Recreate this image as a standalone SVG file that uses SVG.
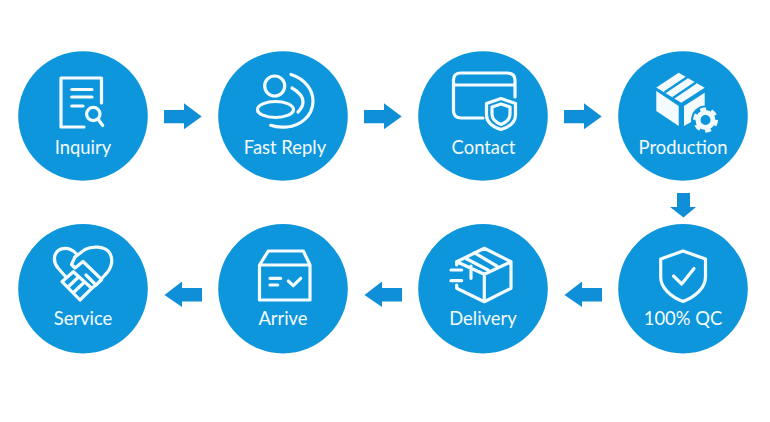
<svg xmlns="http://www.w3.org/2000/svg" width="770" height="422" viewBox="0 0 770 422">
<style>
.c{fill:#0e96dc}
.t{font-family:Lato,"Noto Sans",sans-serif;font-size:18.4px;fill:#f4fbff;text-anchor:middle}
.i{fill:none;stroke:#f4fbff;stroke-width:3.2;stroke-linecap:round;stroke-linejoin:round}
.a{fill:#0e8fd8}
</style>
<rect width="770" height="422" fill="#fff"/>
<g id="connectors">
<path id="a1" class="a" d="M164 110H184V103.3L201.7 116.5L184 129.3V123.3H164Z"/>
<path id="a2" class="a" d="M364 110H384V103.3L401.7 116.5L384 129.3V123.3H364Z"/>
<path id="a3" class="a" d="M564 110H584V103.3L601.7 116.5L584 129.3V123.3H564Z"/>
<path id="a4" class="a" d="M677 193H690V207H696L683.5 217.5L670 207H677Z"/>
<path id="a5" class="a" d="M602 288H582V281.5L564.5 295L582 307V301.5H602Z"/>
<path id="a6" class="a" d="M402 288H382V281.5L364.5 295L382 307V301.5H402Z"/>
<path id="a7" class="a" d="M202 288H182V281.5L164.5 295L182 307V301.5H202Z"/>
</g>
<g id="inquiry">
<circle class="c" cx="83" cy="116" r="64.8"/>
<path class="i" d="M101.5 103V78H61V127H84M71.7 89.5H92M71.7 97H92M71.7 106H83"/>
<circle class="i" cx="93.3" cy="114" r="6.7"/>
<path class="i" d="M98 119L102.7 125.500"/>
<text class="t" x="83" y="154">Inquiry</text>
</g>
<g id="fast-reply">
<circle class="c" cx="283" cy="116" r="64.8"/>
<circle class="i" cx="274.7" cy="86" r="10"/>
<ellipse class="i" cx="275.5" cy="109.5" rx="18" ry="8"/>
<path class="i" d="M291 74.500C305 79 313 90 313 101C313 117 299 126 287 127C281 127.500 275 127 270.700 125.300"/>
<path class="i" d="M292 88C299 92 303 97 303 102C303 106 301 109 298 112"/>
<text class="t" x="285" y="154">Fast Reply</text>
</g>
<g id="contact">
<circle class="c" cx="483" cy="116" r="64.8"/>
<path class="i" d="M483 118H461C456 118 453.500 115 453.500 111V80C453.500 75.500 456 73 461 73H507C512 73 515 75.500 515 80V97M453.500 85H515"/>
<path class="i" d="M501 98.500L515.500 103.500V115C515.500 122 509 127 501 129.500C493 127 486.500 122 486.500 115V103.500Z"/>
<path class="i" stroke-width="2" d="M501 104L510 107V114C510 119 506 122.500 501 124.500C496 122.500 492 119 492 114V107Z"/>
<text class="t" x="483.500" y="154">Contact</text>
</g>
<g id="production">
<circle class="c" cx="683" cy="116" r="64.8"/>
<path fill="#f4fbff" d="M678.700 72.700L704.700 87.700L681.300 102.700L656.300 87.500ZM656.300 91L678.700 106V126L656.300 111ZM684 106L704.700 92.700V112L693 121L684 126Z"/>
<path fill="none" stroke="#0e96dc" stroke-width="2.600" d="M687.500 77L664.500 92.500M696 82.500L673 98"/>
<circle class="c" cx="705.500" cy="120" r="14.500"/>
<circle cx="705.500" cy="120" r="7.500" fill="none" stroke="#f4fbff" stroke-width="5"/>
<circle cx="705.500" cy="120" r="11" fill="none" stroke="#f4fbff" stroke-width="3" stroke-dasharray="6 5.520"/>
<text class="t" x="683" y="154">Production</text>
</g>
<g id="qc">
<circle class="c" cx="683" cy="288.700" r="64.800"/>
<path class="i" d="M683 251L705.500 259V277C705.500 288 695 297 683 301.500C671 297 660.700 288 660.700 277V259Z"/>
<path class="i" stroke-width="3.500" d="M673.500 276L681.700 284L694 268.500"/>
<text class="t" x="683" y="324.500">100% QC</text>
</g>
<g id="delivery">
<circle class="c" cx="483" cy="288.700" r="64.800"/>
<path class="i" d="M456.700 265V261.700L484.300 248.300L511 261.700V288.300L484.300 301.700L456.700 288.300V285M456.700 261.700L484.300 274.300L511 261.700M484.300 274.300V301.700M474.300 252.700L496.700 266M465 258L488 270M471 266V278.300M451 270H461.700M451 280.700H461.700"/>
<text class="t" x="483" y="324.500">Delivery</text>
</g>
<g id="arrive">
<circle class="c" cx="283" cy="288.700" r="64.800"/>
<path class="i" d="M259.500 265H310V300H259.500ZM259.500 265L268.300 251H303.300L310 265"/>
<path class="i" d="M270 278.300H280.700M270 285H277.700M288.300 281L293.300 285.700L300.700 278.300"/>
<text class="t" x="283" y="324.500">Arrive</text>
</g>
<g id="service">
<circle class="c" cx="83" cy="288.700" r="64.800"/>
<path class="i" d="M65.700 276.700L58 268C51 259 55 248.500 65 248.300C70 248.300 73 250 76 253.500M75 257L85 249.500C92 246 104 246 109 252C114 259 112 268 105 275L101.700 278.500"/>
<path class="i" d="M73.300 271.700L62 281.700L80 300L91.700 288.300ZM68 287L78.500 277M73.500 292.500L84 282.500"/>
<path class="i" d="M75 257L71.500 264.500L75 268L83 261.500L101.700 279.500L96 285L86 275M96 285L91.700 288.300"/>
<text class="t" x="83" y="324.500">Service</text>
</g>
</svg>
